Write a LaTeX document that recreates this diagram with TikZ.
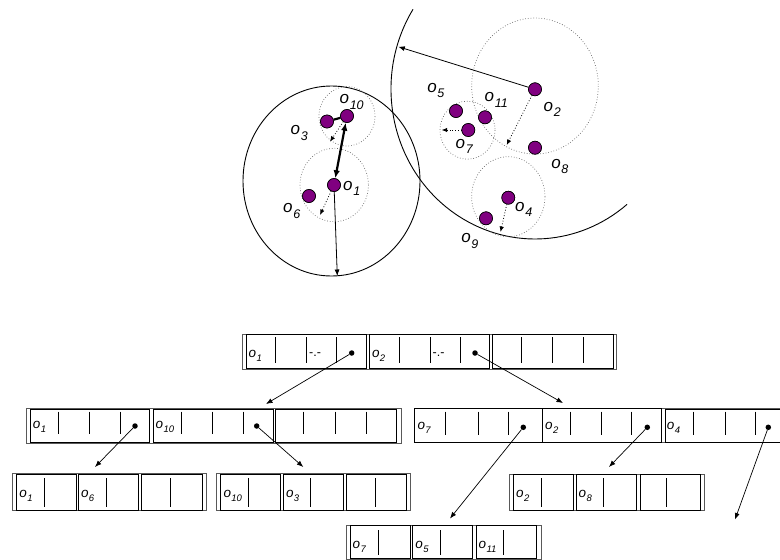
\documentclass[tikz,border=0pt]{standalone}
\usepackage{fontspec}
\setmainfont{Liberation Sans}
\usetikzlibrary{arrows.meta}

\definecolor{objfill}{RGB}{128,0,128}

% object labels: italic o with a dropped index
\newcommand\toplab[1]{{\fontsize{17}{19}\selectfont\itshape o\kern0.6pt\raisebox{-5.5pt}{\fontsize{12.5}{13}\selectfont #1}}}
\newcommand\entlab[1]{{\fontsize{13.5}{15}\selectfont\itshape o\kern0.4pt\raisebox{-3.8pt}{\fontsize{9.5}{10}\selectfont #1}}}

% one entry of a tree node: box, then its inner dividers
% #1 left, #2 right, #3 top, #4 bottom, #5 divider xs, #6/#7 divider top/bottom, #8 style
\newcommand\mtentry[8]{%
  \draw[#8] (#1,#3) rectangle (#2,#4);
  \foreach \dx in {#5}{\draw[divider] (\dx,#6) -- (\dx,#7);}%
}

\begin{document}
\begin{tikzpicture}[x=1pt,y=-1pt,
  obj/.style={circle, draw=black, line width=0.6pt, fill=objfill, minimum size=13pt, inner sep=0pt},
  lbl/.style={anchor=base west, inner sep=0pt},
  cover/.style={draw=black, line width=0.9pt},
  region/.style={draw=black!60, dotted, line width=0.7pt},
  radius arrow/.style={-{Latex[length=6.5pt,width=5pt]}, line width=0.8pt},
  dotted arrow/.style={-{Latex[length=5.5pt,width=4.5pt]}, dotted, line width=0.8pt},
  link/.style={line width=2.2pt},
  frame/.style={draw=black!65, line width=0.7pt},
  entry/.style={draw=black, line width=0.7pt},
  strong entry/.style={draw=black, line width=0.95pt},
  divider/.style={draw=black, line width=0.8pt},
  ptr/.style={circle, fill=black, minimum size=5.5pt, inner sep=0pt},
  ptr arrow/.style={-{Latex[length=6.5pt,width=5pt]}, line width=0.7pt},
  dashtext/.style={anchor=west, inner sep=0pt, font=\fontsize{12.5}{14}\selectfont}
]
\useasboundingbox (0,0) rectangle (780,560);

% ---------- covering regions ----------
\draw[cover] (331.5,181) ellipse [x radius=88.5, y radius=95];
\draw[cover] (535,89) ++(212.1:144 and 150)
  arc[start angle=212.1, end angle=50.3, x radius=144, y radius=150];

\draw[region] (347,116.3) ellipse [x radius=28, y radius=29.7];
\draw[region] (334.2,185) ellipse [x radius=34.2, y radius=36.7];
\draw[region] (535,86) ellipse [x radius=63.3, y radius=68];
\draw[region] (467.5,130.2) ellipse [x radius=27.5, y radius=29];
\draw[region] (508.3,196.7) ellipse [x radius=36.7, y radius=40];

% ---------- objects ----------
\node[obj] (o1)  at (334,185)     {};
\node[obj] (o10) at (347,116)     {};
\node[obj] (o3)  at (327,121.5)   {};
\node[obj] (o6)  at (309,196)     {};
\node[obj] (o2)  at (535,89.3)    {};
\node[obj] (o5)  at (456,111)     {};
\node[obj] (o11) at (485,117.3)   {};
\node[obj] (o7)  at (468.3,130)   {};
\node[obj] (o8)  at (535,147.7)   {};
\node[obj] (o4)  at (508.3,197.7) {};
\node[obj] (o9)  at (486,218.3)   {};

% radius end points
\coordinate (r1)  at (337.3,276);
\coordinate (r2)  at (398.3,46.7);
\coordinate (d10) at (330,141.7);
\coordinate (d1)  at (320,215);
\coordinate (d2)  at (506.7,145);
\coordinate (d7)  at (441.7,130);
\coordinate (d4)  at (500.5,232);

\draw[radius arrow] (o1) -- (r1);
\draw[radius arrow] (o2) -- (r2);
\draw[dotted arrow] (o10) -- (d10);
\draw[dotted arrow] (o1) -- (d1);
\draw[dotted arrow] (o2) -- (d2);
\draw[dotted arrow] (o7) -- (d7);
\draw[dotted arrow] (o4) -- (d4);
\draw[link] (o3) -- (o10);
\draw[link, {Latex[length=8pt,width=6.5pt]}-{Latex[length=8pt,width=6.5pt]}] (o10) -- (o1);

% redraw objects above the connectors
\foreach \n in {o1,o10,o3,o6,o2,o5,o11,o7,o8,o4,o9}
  \fill[objfill, draw=black, line width=0.6pt] (\n.center) circle (6.5);

% ---------- object labels ----------
\node[lbl] (lo10) at (339.5,103.5) {\toplab{10}};
\node[lbl] (lo3)  at (290.5,134.5) {\toplab{3}};
\node[lbl] (lo1)  at (343,190)     {\toplab{1}};
\node[lbl] (lo6)  at (283,212.7)   {\toplab{6}};
\node[lbl] (lo5)  at (427.2,92)    {\toplab{5}};
\node[lbl] (lo11) at (484.5,101.7) {\toplab{11}};
\node[lbl] (lo2)  at (543.5,111)   {\toplab{2}};
\node[lbl] (lo7)  at (455.5,148.3) {\toplab{7}};
\node[lbl] (lo8)  at (551.2,168.3) {\toplab{8}};
\node[lbl] (lo4)  at (515,211.3)   {\toplab{4}};
\node[lbl] (lo9)  at (461.2,242.7) {\toplab{9}};

% ---------- root node ----------
\draw[frame] (242.7,334) rectangle (616.3,369.5);
\mtentry{246}{366}{334.8}{368.7}{275,306.7,336.7}{337.3}{363.3}{entry}
\mtentry{369.3}{489.3}{334.8}{368.7}{399.3,430,460}{337.3}{363.3}{entry}
\mtentry{492.7}{613}{334.8}{368.7}{521.7,552.7,583.3}{337.3}{363.3}{entry}
\node[lbl] (ra) at (248.5,357.3) {\entlab{1}};
\node[lbl] (rb) at (371.8,357.3) {\entlab{2}};
\node[dashtext] (rac) at (309,355) {-.-};
\node[dashtext] (rbc) at (432.5,355) {-.-};
\node[ptr] (rap) at (351.7,353) {};
\node[ptr] (rbp) at (475,353) {};

% ---------- second level, left ----------
\draw[frame] (26,408.3) rectangle (401.7,443.3);
\mtentry{30.7}{149.3}{409.1}{442.5}{58.3,89.3,120}{411.7}{434}{entry}
\mtentry{153.3}{273.3}{409.1}{442.5}{181.7,212.7,243.3}{411.7}{434}{entry}
\mtentry{275.7}{396.7}{409.1}{442.5}{303.3,335,366.7}{411.7}{434}{entry}
\node[lbl] (la) at (32.7,428.3) {\entlab{1}};
\node[lbl] (lb) at (155.5,428.3) {\entlab{10}};
\node[ptr] (lap) at (135,426) {};
\node[ptr] (lbp) at (256.7,426) {};

% ---------- second level, right ----------
\draw[frame] (414,408.3) rectangle (790,442.7);
\mtentry{414}{542.7}{408.3}{442.7}{445,478.3,508.3}{411.7}{435}{entry}
\mtentry{542.7}{661.7}{408.3}{442.7}{570.7,601.7,631.7}{411.7}{435}{strong entry}
\mtentry{665}{786}{409.1}{441.9}{693.3,725,755}{411.7}{435}{entry}
\node[lbl] (ma) at (417.3,429.3) {\entlab{7}};
\node[lbl] (mb) at (545,429.3) {\entlab{2}};
\node[lbl] (mc) at (666.7,429.3) {\entlab{4}};
\node[ptr] (map) at (523.3,427.3) {};
\node[ptr] (mbp) at (647.3,427.3) {};
\node[ptr] (mcp) at (768.3,427.3) {};

% ---------- leaf level ----------
% o1, o6
\draw[frame] (12.7,473.3) rectangle (206.7,510.7);
\mtentry{16.7}{76}{474.1}{509.9}{44.3}{478.3}{506.7}{entry}
\mtentry{78.3}{138.3}{474.1}{509.9}{106.7}{478.3}{506.7}{entry}
\mtentry{141.7}{202.7}{474.1}{509.9}{170.7}{478.3}{506.7}{entry}
\node[lbl] (aa) at (19.3,497.3) {\entlab{1}};
\node[lbl] (ab) at (80.8,497.3) {\entlab{6}};

% o10, o3
\draw[frame] (216.7,473.3) rectangle (410,510.7);
\mtentry{220.7}{280.7}{474.1}{509.9}{248.3}{478.3}{506.7}{entry}
\mtentry{283.3}{343.3}{474.1}{509.9}{310.7}{478.3}{506.7}{entry}
\mtentry{346.7}{406.7}{474.1}{509.9}{375}{478.3}{506.7}{entry}
\node[lbl] (ba) at (223.3,497.3) {\entlab{10}};
\node[lbl] (bb) at (285.8,497.3) {\entlab{3}};

% o2, o8
\draw[frame] (509.3,474) rectangle (704.3,510);
\mtentry{513.3}{573.3}{474}{510}{541}{478.3}{506.7}{strong entry}
\mtentry{576}{636}{474}{510}{603.3}{478.3}{506.7}{strong entry}
\mtentry{640}{700}{474}{510}{666.7}{478.3}{506.7}{strong entry}
\node[lbl] (ca) at (516,497.3) {\entlab{2}};
\node[lbl] (cb) at (578.5,497.3) {\entlab{8}};

% o7, o5, o11
\draw[frame] (346,525) rectangle (541.7,559.3);
\mtentry{350}{410.7}{525.8}{558.5}{378.3}{530}{555}{entry}
\mtentry{412.7}{472.7}{525.8}{558.5}{440}{530}{555}{entry}
\mtentry{476}{536.7}{525.8}{558.5}{503.3}{530}{555}{entry}
\node[lbl] (da) at (352.5,548.3) {\entlab{7}};
\node[lbl] (db) at (415.2,548.3) {\entlab{5}};
\node[lbl] (dc) at (478.5,548.3) {\entlab{11}};

% ---------- child pointers ----------
\coordinate (ta) at (266,404);
\coordinate (tb) at (563,403);
\coordinate (tc) at (95,467);
\coordinate (td) at (303.3,467);
\coordinate (te) at (450,518.5);
\coordinate (tf) at (609,467);
\coordinate (tg) at (735,519.5);

\draw[ptr arrow] (rap) -- (ta);
\draw[ptr arrow] (rbp) -- (tb);
\draw[ptr arrow] (lap) -- (tc);
\draw[ptr arrow] (lbp) -- (td);
\draw[ptr arrow] (map) -- (te);
\draw[ptr arrow] (mbp) -- (tf);
\draw[ptr arrow] (mcp) -- (tg);
\end{tikzpicture}
\end{document}
